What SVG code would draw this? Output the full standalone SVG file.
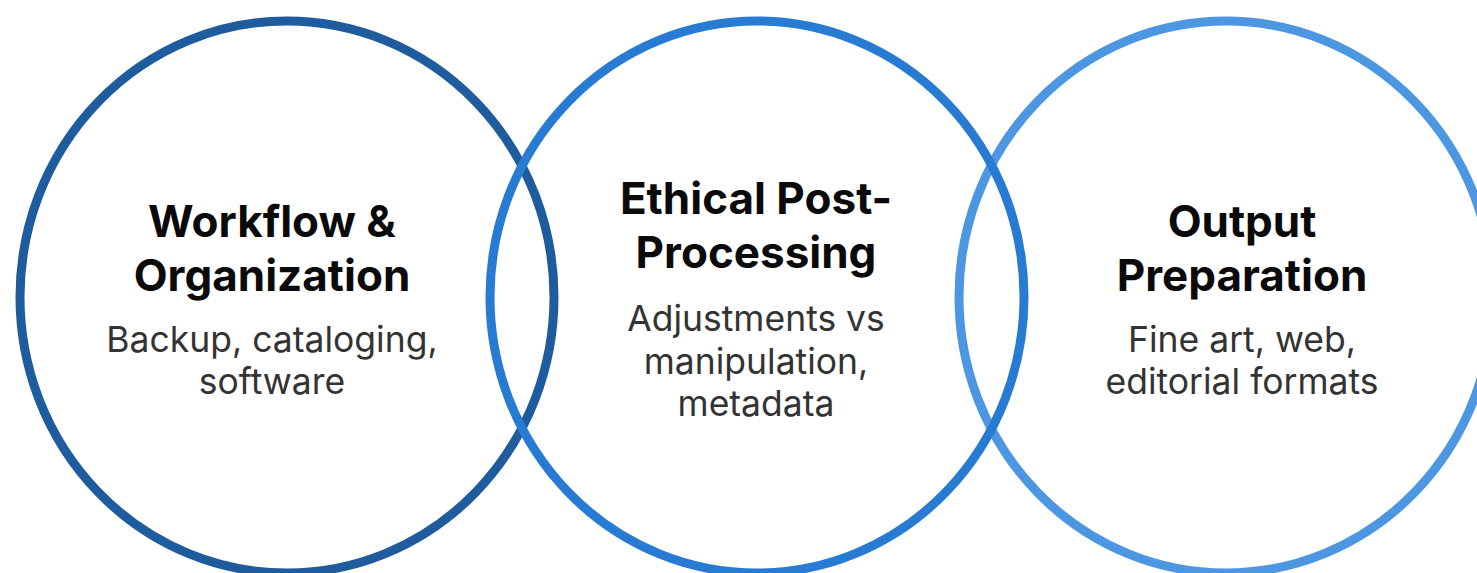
<svg xmlns="http://www.w3.org/2000/svg" width="1477" height="573" viewBox="0 0 1477 573">
<style>
.ring{fill:none;stroke-width:9}
.t{font-family:Inter,"Liberation Sans",sans-serif;font-weight:700;font-size:44px;fill:#0a0a0a;text-anchor:middle}
.s{font-family:Inter,"Liberation Sans",sans-serif;font-weight:400;font-size:35.5px;fill:#333333;text-anchor:middle}
</style>
<rect width="1477" height="573" fill="#ffffff"/>
<g id="node-workflow">
<ellipse class="ring" cx="287" cy="297" rx="267" ry="276" stroke="#1e5c9e"/>
</g>
<g id="node-output">
<ellipse class="ring" cx="1226" cy="297" rx="267" ry="276" stroke="#4d97e2"/>
</g>
<g id="node-ethical">
<ellipse class="ring" cx="757" cy="297" rx="267" ry="276" stroke="#287bd3"/>
</g>
<g id="labels-workflow">
<text class="t" x="272" y="237">Workflow &amp;</text>
<text class="t" x="272" y="291">Organization</text>
<text class="s" x="272" y="352">Backup, cataloging,</text>
<text class="s" x="272" y="394">software</text>
</g>
<g id="labels-ethical">
<text class="t" x="756" y="214">Ethical Post-</text>
<text class="t" x="756" y="268">Processing</text>
<text class="s" x="756" y="331">Adjustments vs</text>
<text class="s" x="756" y="374">manipulation,</text>
<text class="s" x="756" y="416">metadata</text>
</g>
<g id="labels-output">
<text class="t" x="1242" y="237">Output</text>
<text class="t" x="1242" y="291">Preparation</text>
<text class="s" x="1242" y="352">Fine art, web,</text>
<text class="s" x="1242" y="394">editorial formats</text>
</g>
<g id="connectors"></g>
</svg>
